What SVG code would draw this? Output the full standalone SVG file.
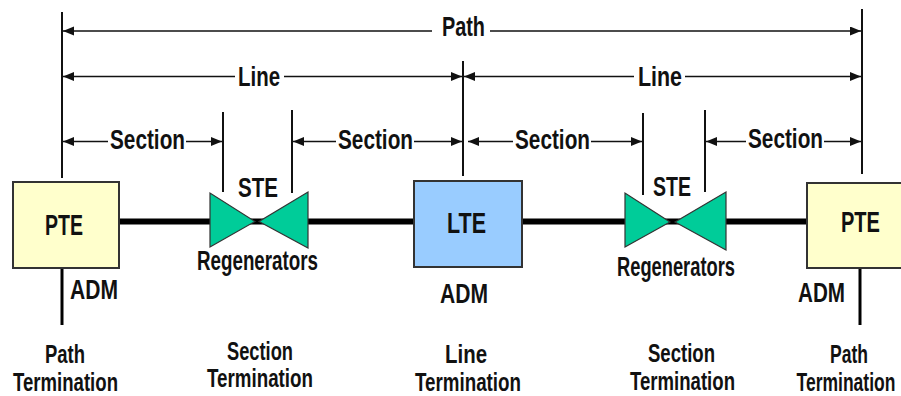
<svg xmlns="http://www.w3.org/2000/svg" width="901" height="396" viewBox="0 0 901 396">
<defs>
<style>
text{font-family:"Liberation Sans",Arial,sans-serif;font-weight:bold;fill:#111;text-anchor:middle}
.dim{font-size:28px}
.box{font-size:30px}
.lbl{font-size:27px}
.bot{font-size:25px}
.tick{stroke:#111;stroke-width:2;fill:none}
.arr{stroke:#111;stroke-width:1.6;fill:none;marker-end:url(#ah)}
.trunk{stroke:#000;stroke-width:6;fill:none}
.stub{stroke:#000;stroke-width:3;fill:none}
.pte{fill:#FFFFCC;stroke:#333;stroke-width:2}
.lte{fill:#99CCFF;stroke:#333;stroke-width:2}
.reg{fill:#00CC99;stroke:#333;stroke-width:1.2}
</style>
<marker id="ah" markerUnits="userSpaceOnUse" markerWidth="12" markerHeight="10" refX="11" refY="4.5" orient="auto">
<path d="M0,0 L11,4.5 L0,9 z" fill="#111"/>
</marker>
</defs>
<rect width="901" height="396" fill="#fff"/>
<g id="connectors">
<line class="trunk" x1="119" y1="221.5" x2="212" y2="221.5"/>
<line class="trunk" x1="250" y1="221.5" x2="265" y2="221.5"/>
<line class="trunk" x1="306" y1="221.5" x2="415" y2="221.5"/>
<line class="trunk" x1="521" y1="221.5" x2="627" y2="221.5"/>
<line class="trunk" x1="665" y1="221.5" x2="680" y2="221.5"/>
<line class="trunk" x1="724" y1="221.5" x2="808" y2="221.5"/>
<line class="stub" x1="62" y1="268" x2="62" y2="325"/>
<line class="stub" x1="860" y1="268" x2="860" y2="325"/>
</g>
<g id="dimensions">
<line class="tick" x1="62" y1="12" x2="62" y2="178"/>
<line class="tick" x1="223" y1="112" x2="223" y2="192"/>
<line class="tick" x1="292" y1="110" x2="292" y2="193"/>
<line class="tick" x1="463" y1="61" x2="463" y2="176"/>
<line class="tick" x1="643" y1="113" x2="643" y2="195"/>
<line class="tick" x1="705" y1="110" x2="705" y2="192"/>
<line class="tick" x1="862" y1="9" x2="862" y2="174"/>
<line class="arr" x1="432" y1="31" x2="63" y2="31"/>
<line class="arr" x1="490" y1="31" x2="861" y2="31"/>
<line class="arr" x1="235" y1="76.5" x2="63" y2="76.5"/>
<line class="arr" x1="284" y1="76.5" x2="462" y2="76.5"/>
<line class="arr" x1="634" y1="76.5" x2="464" y2="76.5"/>
<line class="arr" x1="685" y1="76.5" x2="861" y2="76.5"/>
<line class="arr" x1="108" y1="141.5" x2="63" y2="141.5"/>
<line class="arr" x1="186" y1="141.5" x2="222" y2="141.5"/>
<line class="arr" x1="336" y1="141.5" x2="293" y2="141.5"/>
<line class="arr" x1="414" y1="141.5" x2="462" y2="141.5"/>
<line class="arr" x1="513" y1="141.5" x2="468" y2="141.5"/>
<line class="arr" x1="591" y1="141.5" x2="642" y2="141.5"/>
<line class="arr" x1="746" y1="141.5" x2="706" y2="141.5"/>
<line class="arr" x1="824" y1="141.5" x2="861" y2="141.5"/>
<text class="dim" x="463.5" y="36" textLength="43" lengthAdjust="spacingAndGlyphs">Path</text>
<text class="dim" x="259" y="86" textLength="42" lengthAdjust="spacingAndGlyphs">Line</text>
<text class="dim" x="660" y="86" textLength="44" lengthAdjust="spacingAndGlyphs">Line</text>
<text class="dim" x="147.5" y="149" textLength="75" lengthAdjust="spacingAndGlyphs">Section</text>
<text class="dim" x="375.5" y="149" textLength="75" lengthAdjust="spacingAndGlyphs">Section</text>
<text class="dim" x="552.5" y="149" textLength="75" lengthAdjust="spacingAndGlyphs">Section</text>
<text class="dim" x="785.5" y="148" textLength="75" lengthAdjust="spacingAndGlyphs">Section</text>
</g>
<g id="pte-left">
<rect class="pte" x="13" y="182" width="106" height="86"/>
<text class="box" x="64" y="235" textLength="38" lengthAdjust="spacingAndGlyphs">PTE</text>
<text class="lbl" x="94" y="299" textLength="48" lengthAdjust="spacingAndGlyphs">ADM</text>
<text class="bot" x="65" y="363" textLength="40" lengthAdjust="spacingAndGlyphs">Path</text>
<text class="bot" x="65.5" y="391" textLength="105" lengthAdjust="spacingAndGlyphs">Termination</text>
</g>
<g id="regen-left">
<polygon class="reg" points="210,193 210,247 255,221.5"/>
<polygon class="reg" points="308,192 308,248 259,221.5"/>
<text class="lbl" x="258" y="197" textLength="40" lengthAdjust="spacingAndGlyphs">STE</text>
<text class="lbl" x="257.5" y="270" textLength="121" lengthAdjust="spacingAndGlyphs">Regenerators</text>
<text class="bot" x="260" y="360" textLength="66" lengthAdjust="spacingAndGlyphs">Section</text>
<text class="bot" x="260" y="387" textLength="106" lengthAdjust="spacingAndGlyphs">Termination</text>
</g>
<g id="lte">
<rect class="lte" x="414" y="181" width="108" height="86"/>
<text class="box" x="466.5" y="233" textLength="39" lengthAdjust="spacingAndGlyphs">LTE</text>
<text class="lbl" x="464" y="303" textLength="48" lengthAdjust="spacingAndGlyphs">ADM</text>
<text class="bot" x="466" y="363" textLength="42" lengthAdjust="spacingAndGlyphs">Line</text>
<text class="bot" x="468" y="391" textLength="106" lengthAdjust="spacingAndGlyphs">Termination</text>
</g>
<g id="regen-right">
<polygon class="reg" points="625,193 625,247 670,222"/>
<polygon class="reg" points="726,192 726,250 675,222"/>
<text class="lbl" x="672" y="196" textLength="38" lengthAdjust="spacingAndGlyphs">STE</text>
<text class="lbl" x="676" y="276" textLength="118" lengthAdjust="spacingAndGlyphs">Regenerators</text>
<text class="bot" x="681.5" y="362" textLength="67" lengthAdjust="spacingAndGlyphs">Section</text>
<text class="bot" x="682.5" y="390" textLength="105" lengthAdjust="spacingAndGlyphs">Termination</text>
</g>
<g id="pte-right">
<rect class="pte" x="807" y="183" width="110" height="85"/>
<text class="box" x="860.5" y="232" textLength="39" lengthAdjust="spacingAndGlyphs">PTE</text>
<text class="lbl" x="821.5" y="302" textLength="47" lengthAdjust="spacingAndGlyphs">ADM</text>
<text class="bot" x="849" y="363" textLength="38" lengthAdjust="spacingAndGlyphs">Path</text>
<text class="bot" transform="translate(846,391) scale(0.7,1)" x="0" y="0">Termination</text>
</g>
</svg>
